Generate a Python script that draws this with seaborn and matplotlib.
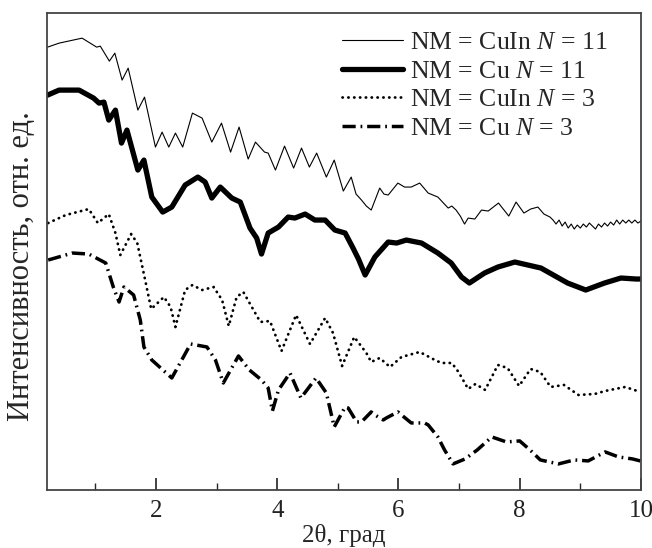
import numpy as np
import pandas as pd
import matplotlib
matplotlib.use("Agg")
import matplotlib.pyplot as plt
import seaborn as sns

# ---- data (y in arbitrary units) ----
x_cuin11 = [0.21, 0.40, 0.78, 1.02, 1.08, 1.23, 1.32, 1.44, 1.54, 1.70, 1.81, 1.99,
            2.10, 2.21, 2.32, 2.44, 2.60, 2.76, 2.92, 3.08, 3.23, 3.37, 3.52, 3.64,
            3.79, 3.85, 3.97, 4.12, 4.27, 4.40, 4.53, 4.65, 4.81, 4.94, 5.09, 5.22,
            5.30, 5.39, 5.47, 5.55, 5.69, 5.76, 5.83, 5.99, 6.10, 6.21, 6.35, 6.49,
            6.65, 6.82, 6.88, 6.95, 7.02, 7.09, 7.15, 7.26, 7.37, 7.48, 7.65, 7.82,
            7.94, 8.07, 8.18, 8.30, 8.40, 8.50, 8.55, 8.60, 8.65, 8.70, 8.75, 8.80,
            8.85, 8.90, 8.95, 9.00, 9.05, 9.10, 9.15, 9.20, 9.25, 9.30, 9.35, 9.40,
            9.45, 9.50, 9.55, 9.60, 9.65, 9.70, 9.75, 9.80, 9.85, 9.90, 9.95, 10.0]
y_cuin11 = [443, 447, 452, 443, 444, 429, 437, 410, 422, 380, 393, 343,
            358, 343, 357, 343, 377, 372, 348, 367, 338, 363, 331, 348,
            338, 337, 320, 344, 322, 342, 323, 337, 313, 330, 299, 313,
            296, 290, 284, 280, 302, 296, 295, 307, 303, 303, 307, 297,
            293, 282, 284, 280, 274, 266, 272, 271, 280, 279, 287, 274,
            288, 277, 281, 283, 276, 273, 270, 266, 270, 264, 268, 262,
            266, 261, 265, 262, 266, 263, 267, 264, 261, 266, 263, 267,
            264, 268, 265, 270, 266, 270, 267, 270, 267, 270, 267, 269]

x_cu11 = [0.21, 0.40, 0.73, 0.97, 1.06, 1.14, 1.22, 1.33, 1.43, 1.52, 1.70, 1.80,
          1.93, 2.11, 2.26, 2.48, 2.69, 2.81, 2.92, 3.06, 3.25, 3.39, 3.55, 3.66,
          3.74, 3.85, 4.02, 4.18, 4.29, 4.46, 4.62, 4.79, 4.95, 5.12, 5.25, 5.34,
          5.45, 5.61, 5.83, 5.97, 6.13, 6.38, 6.65, 6.87, 7.04, 7.17, 7.42, 7.64,
          7.92, 8.35, 8.79, 9.09, 9.40, 9.67, 9.92, 10.0]
y_cu11 = [395, 400, 400, 392, 387, 388, 370, 380, 347, 360, 320, 330,
          293, 278, 283, 305, 313, 308, 292, 303, 292, 288, 262, 252,
          236, 257, 263, 273, 272, 276, 270, 270, 260, 257, 242, 231,
          215, 233, 248, 247, 250, 247, 237, 227, 213, 207, 217, 223,
          228, 222, 207, 200, 207, 212, 211, 211]

x_cuin3 = [0.22, 0.51, 0.89, 1.04, 1.22, 1.33, 1.41, 1.59, 1.69, 1.81, 1.92, 2.13,
           2.24, 2.32, 2.48, 2.60, 2.76, 2.95, 3.09, 3.20, 3.33, 3.44, 3.58, 3.72,
           3.88, 4.07, 4.31, 4.54, 4.79, 4.92, 5.07, 5.27, 5.47, 5.55, 5.69, 5.86,
           6.05, 6.35, 6.60, 6.71, 6.88, 6.99, 7.15, 7.27, 7.43, 7.64, 7.80, 7.99,
           8.18, 8.34, 8.51, 8.73, 8.97, 9.24, 9.41, 9.74, 9.99]
y_cuin3 = [267, 275, 281, 267, 276, 257, 235, 256, 247, 213, 181, 193,
           183, 163, 200, 205, 200, 203, 190, 164, 193, 198, 183, 168,
           169, 139, 175, 146, 172, 157, 124, 153, 137, 128, 132, 123,
           133, 138, 130, 127, 127, 118, 101, 106, 100, 125, 122, 104,
           121, 118, 103, 105, 95, 96, 99, 103, 98]

x_cu3 = [0.22, 0.62, 0.89, 1.17, 1.30, 1.39, 1.47, 1.63, 1.74, 1.80, 1.93, 2.26,
         2.57, 2.84, 2.98, 3.11, 3.36, 3.54, 3.74, 3.85, 3.92, 4.02, 4.21, 4.39,
         4.64, 4.81, 4.94, 5.12, 5.17, 5.31, 5.39, 5.55, 5.61, 5.75, 5.80, 5.99,
         6.21, 6.43, 6.49, 6.65, 6.76, 6.90, 7.10, 7.30, 7.54, 7.78, 8.00, 8.17,
         8.34, 8.64, 8.90, 9.13, 9.41, 9.63, 9.86, 9.99]
y_cu3 = [230, 237, 236, 227, 202, 188, 203, 195, 170, 143, 130, 112,
         146, 143, 130, 107, 134, 120, 110, 102, 79, 100, 117, 92,
         112, 97, 63, 83, 82, 68, 68, 78, 75, 70, 72, 78,
         67, 67, 65, 53, 40, 26, 31, 40, 53, 48, 49, 40,
         30, 26, 30, 29, 38, 33, 31, 29]

labels = ["NM = CuIn $N$ = 11", "NM = Cu $N$ = 11",
          "NM = CuIn $N$ = 3", "NM = Cu $N$ = 3"]

# ---- style ----
sns.set_style("ticks")
plt.rcParams["font.family"] = ["Liberation Serif", "DejaVu Serif"]
plt.rcParams["mathtext.fontset"] = "custom"
plt.rcParams["mathtext.rm"] = "Liberation Serif"
plt.rcParams["mathtext.it"] = "Liberation Serif:italic"

fig = plt.figure(figsize=(6.52, 5.48), dpi=100)
ax = fig.add_axes([0.072, 0.106, 0.911, 0.870])

series = [
    (x_cuin11, y_cuin11, dict(lw=0.8, linestyle="-")),
    (x_cu11, y_cu11, dict(lw=3.8, linestyle="-")),
    (x_cuin3, y_cuin3, dict(lw=2.0, linestyle=(0, (0.1, 2.0)), dash_capstyle="round")),
    (x_cu3, y_cu3, dict(lw=2.5, linestyle=(0, (3.8, 1.4, 0.5, 1.4)))),
]
for (xs, ys, kw), lab in zip(series, labels):
    df = pd.DataFrame({"x": xs, "y": ys})
    sns.lineplot(data=df, x="x", y="y", ax=ax, color="black", label=lab,
                 estimator=None, sort=False, **kw)

ax.set_xlim(0.2, 10.0)
ax.set_ylim(0, 477)
ax.set_xticks([2, 4, 6, 8, 10])
ax.set_xticks([1, 3, 5, 7, 9], minor=True)
ax.set_yticks([])
ax.tick_params(axis="x", which="major", direction="in", length=9, width=1.2,
               labelsize=18, pad=7, colors="#222222")
ax.tick_params(axis="x", which="minor", direction="in", length=5, width=1.0)
for s in ax.spines.values():
    s.set_linewidth(1.3)
    s.set_color("#444444")

ax.set_xlabel("2θ, град", fontsize=18, labelpad=2)
ax.set_ylabel("Интенсивность, отн. ед.", fontsize=22)
ax.yaxis.set_label_coords(-0.018, 0.47)

leg = ax.legend(loc="upper right", frameon=False, fontsize=18.5, handlelength=2.35,
                handletextpad=0.3, labelspacing=0.22, borderaxespad=0.3,
                bbox_to_anchor=(0.975, 1.0))

fig.savefig("out.png", dpi=100)
